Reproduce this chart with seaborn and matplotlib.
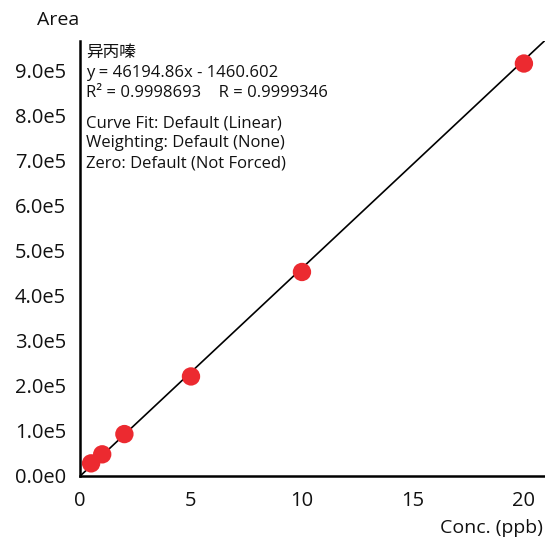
import matplotlib
matplotlib.use("Agg")
import matplotlib.pyplot as plt
import seaborn as sns
import pandas as pd
import numpy as np
from matplotlib.ticker import MultipleLocator, FuncFormatter

conc = [0.5, 1, 2, 5, 10, 20]
area = [27000, 47000, 92000, 220000, 452000, 915000]
slope = 46194.86
intercept = -1460.602
compound = "异丙嗪"
info_lines = [
    "y = 46194.86x - 1460.602",
    "R² = 0.9998693    R = 0.9999346",
]
fit_lines = [
    "Curve Fit: Default (Linear)",
    "Weighting: Default (None)",
    "Zero: Default (Not Forced)",
]

sns.set_style("white")
plt.rcParams['font.family'] = ['Open Sans', 'Noto Sans CJK SC', 'DejaVu Sans']

W, H = 545, 541
fig = plt.figure(figsize=(W/100, H/100), dpi=100)
L, R, T, B = 80, 545, 41, 475.5
ax = fig.add_axes([L/W, 1-B/H, (R-L)/W, (B-T)/H])

xmax = 20.95
ymax = 9.65e5
ax.set_xlim(0, xmax)
ax.set_ylim(0, ymax)

pts = pd.DataFrame({"conc": conc, "area": area})
xl = np.array([0, xmax * 1.02])
line = pd.DataFrame({"x": xl, "y": slope * xl + intercept})
sns.lineplot(data=line, x="x", y="y", ax=ax, color="black", linewidth=1.2, zorder=2)
sns.scatterplot(data=pts, x="conc", y="area", ax=ax, color="#EC2A30", s=175,
                edgecolor="none", zorder=3, clip_on=False)

ax.set_xlabel("")
ax.set_ylabel("")
for s in ["top", "right"]:
    ax.spines[s].set_visible(False)
for s in ["left", "bottom"]:
    ax.spines[s].set_linewidth(1.8)
    ax.spines[s].set_color("black")

ax.xaxis.set_major_locator(MultipleLocator(5))
ax.xaxis.set_minor_locator(MultipleLocator(1))
ax.yaxis.set_major_locator(MultipleLocator(1e5))
ax.yaxis.set_minor_locator(MultipleLocator(2e4))

def yfmt(v, pos):
    if v == 0:
        return "0.0e0"
    return f"{v/1e5:.1f}e5"
ax.yaxis.set_major_formatter(FuncFormatter(yfmt))

ax.tick_params(axis="both", which="major", direction="out", length=6, width=1.8,
               labelsize=14.5, color="black", labelcolor="#111111", pad=3)
ax.tick_params(axis="both", which="minor", direction="out", length=3, width=1.8, color="black")
ax.tick_params(axis="y", which="major", length=7, pad=3)
ax.tick_params(axis="x", which="major", pad=5)

fig.text(37/W, 1-20/H, "Area", fontsize=14, ha="left", va="center", color="#111111")
fig.text(543/W, 1-528/H, "Conc. (ppb)", fontsize=14, ha="right", va="center", color="#111111")

tx = 86/W
fs = 12
fig.text(tx, 1-53/H, compound, fontsize=fs, ha="left", va="center", color="#111111")
ys = [73, 93]
for t, y in zip(info_lines, ys):
    fig.text(tx, 1-y/H, t, fontsize=fs, ha="left", va="center", color="#111111")
ys2 = [123, 143, 163]
for t, y in zip(fit_lines, ys2):
    fig.text(tx, 1-y/H, t, fontsize=fs, ha="left", va="center", color="#111111")

fig.savefig("out.png", dpi=100)
